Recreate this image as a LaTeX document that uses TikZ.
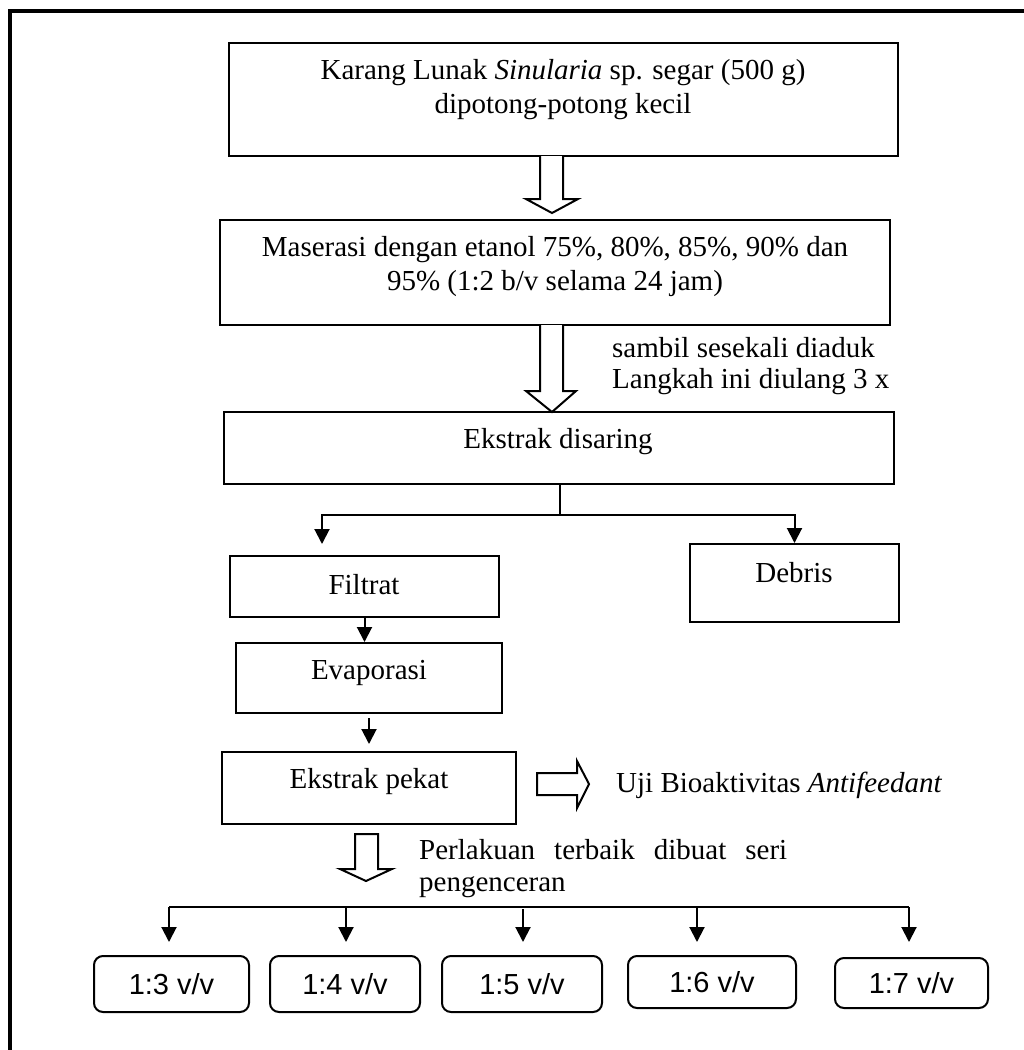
\documentclass[tikz,border=0pt]{standalone}
\usepackage{fontspec}
\setmainfont{Liberation Serif}
\setsansfont{Liberation Sans}
\usetikzlibrary{arrows.meta}
\begin{document}
\begin{tikzpicture}[x=1pt,y=-1pt,
  font=\fontsize{29}{34}\selectfont,
  box/.style={draw,line width=2pt,inner sep=0pt},
  rbox/.style={draw,line width=2pt,inner sep=0pt,rounded corners=9pt,font=\sffamily\fontsize{29}{34}\selectfont},
  txt/.style={inner sep=0pt,align=center},
  arr/.style={line width=2pt,-{Triangle[length=15pt,width=15pt]}},
  thin/.style={line width=2pt},
  hollow/.style={draw,line width=2pt,fill=white,line join=miter}]
\useasboundingbox (0,0) rectangle (1024,1050);
% outer frame
\draw[line width=4pt] (10,1060) -- (10,11) -- (1040,11);
% boxes
\node[box,minimum width=669pt,minimum height=113pt] (b1) at (563.5,99.5) {};
\node[box,minimum width=670pt,minimum height=105pt] (b2) at (555,272.5) {};
\node[box,minimum width=670pt,minimum height=72pt] (b3) at (559,448) {};
\node[box,minimum width=269pt,minimum height=61pt] (filtrat) at (364.5,586.5) {};
\node[box,minimum width=209pt,minimum height=78pt] (debris) at (794.5,583) {};
\node[box,minimum width=266pt,minimum height=70pt] (evap) at (369,678) {};
\node[box,minimum width=294pt,minimum height=72pt] (pekat) at (369,788) {};
% texts
\node[txt] (t1) at (563,90) {Karang Lunak \textit{Sinularia} sp. segar (500 g)\\dipotong-potong kecil};
\node[txt] (t2) at (555,267) {Maserasi dengan etanol 75\%, 80\%, 85\%, 90\% dan\\95\% (1:2 b/v selama 24 jam)};
\node[txt] (t3) at (558,442) {Ekstrak disaring};
\node[txt] (tf) at (364,585) {Filtrat};
\node[txt] (td) at (794,573) {Debris};
\node[txt] (te) at (369,673) {Evaporasi};
\node[txt] (tp) at (369,782) {Ekstrak pekat};
\node[txt,align=left,anchor=west,font=\fontsize{29}{31}\selectfont] (side) at (612,366) {sambil sesekali diaduk\\Langkah ini diulang 3 x};
\node[txt,anchor=west] (uji) at (616,785) {Uji Bioaktivitas \textit{Antifeedant}};
\node[txt,align=left,anchor=west,font=\fontsize{29}{32}\selectfont] (perl) at (419,869) {\makebox[368pt][s]{Perlakuan terbaik dibuat seri}\\pengenceran};
% rounded boxes
\node[rbox,minimum width=155pt,minimum height=56pt] (r1) at (171.5,984) {1:3 v/v};
\node[rbox,minimum width=150pt,minimum height=56pt] (r2) at (345,984) {1:4 v/v};
\node[rbox,minimum width=160pt,minimum height=56pt] (r3) at (522,984) {1:5 v/v};
\node[rbox,minimum width=168pt,minimum height=52pt] (r4) at (712,982) {1:6 v/v};
\node[rbox,minimum width=153pt,minimum height=50pt] (r5) at (911.5,983) {1:7 v/v};
% hollow arrows
\draw[hollow] (540,156) -- (540,199) -- (526,199) -- (552,213) -- (578,199) -- (563,199) -- (563,156);
\draw[hollow] (540,325) -- (540,391) -- (526,391) -- (552,412) -- (576,391) -- (563,391) -- (563,325);
\draw[hollow] (537,773) -- (577,773) -- (577,761) -- (589,784) -- (577,808) -- (577,795) -- (537,795) -- cycle;
\draw[hollow] (355,834) -- (378,834) -- (378,869) -- (392,869) -- (366,881) -- (340,869) -- (355,869) -- cycle;
% split after filtering
\coordinate (split) at (560,515);
\coordinate (fL) at (322,544);
\draw[thin] (b3.south -| split) -- (split);
\draw[arr] (split) -| (fL);
\draw[arr] (split) -| (debris.north);
\draw[arr,shorten >=0pt] (filtrat.south) -- (filtrat.south |- evap.north);
\draw[arr,shorten <=4pt,shorten >=7pt] (evap.south) -- (evap.south |- pekat.north);
% dilution bus
\coordinate (c1) at (169,907);
\coordinate (c2) at (346,907);
\coordinate (c3) at (523,907);
\coordinate (c4) at (697,907);
\coordinate (c5) at (909,907);
\draw[thin] (c1) -- (c5);
\draw[arr,shorten >=13pt] (c1) -- (c1 |- r1.north);
\draw[arr,shorten >=13pt] (c2) -- (c2 |- r2.north);
\draw[arr,shorten >=13pt] ([yshift=-2pt]c3) -- (c3 |- r3.north);
\draw[arr,shorten >=13pt] (c4) -- (c4 |- r4.north);
\draw[arr,shorten >=15pt] (c5) -- (c5 |- r5.north);
\end{tikzpicture}
\end{document}
